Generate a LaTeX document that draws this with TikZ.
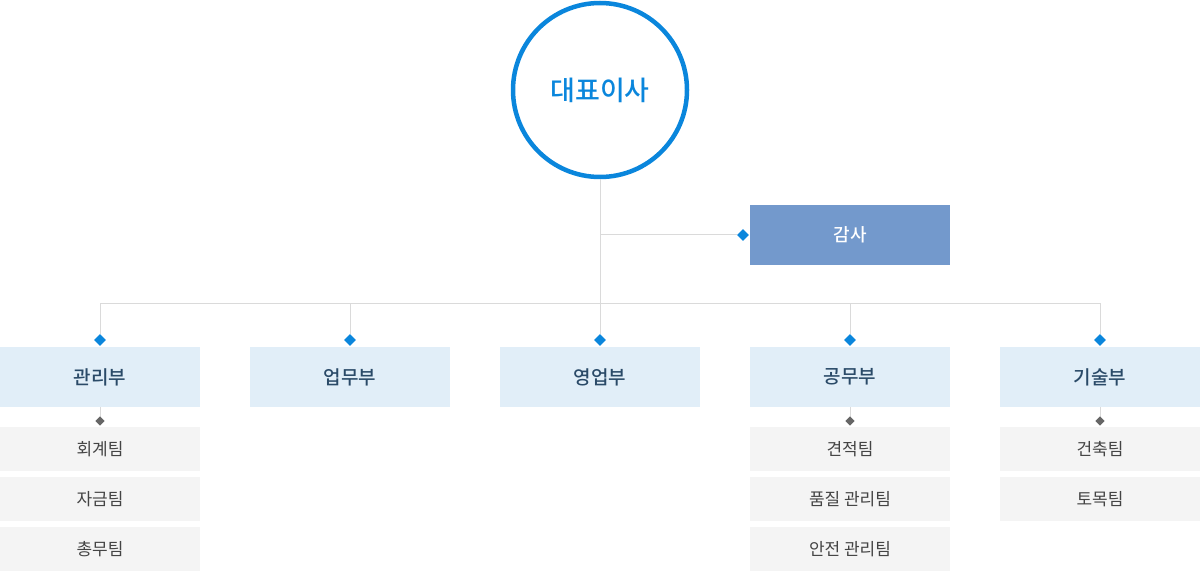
\documentclass[tikz,border=0pt]{standalone}
\usepackage{fontspec}
\setmainfont{Noto Sans CJK KR}
\newfontfamily\medfont{Noto Sans CJK KR Medium}
\usetikzlibrary{shapes.geometric, positioning}
\definecolor{ceoblue}{HTML}{0A86DC}
\definecolor{auditblue}{HTML}{7399CC}
\definecolor{deptfill}{HTML}{E1EEF8}
\definecolor{depttext}{HTML}{2A4A68}
\definecolor{teamfill}{HTML}{F4F4F4}
\definecolor{teamtext}{HTML}{444444}
\definecolor{linegray}{HTML}{DADADA}
\definecolor{dotgray}{HTML}{666666}

\begin{document}
\begin{tikzpicture}[x=1pt, y=-1pt,
    ceo/.style={circle, draw=ceoblue, line width=4.5pt, minimum size=174pt, inner sep=0pt,
        text=ceoblue, font=\fontsize{27}{30}\selectfont\medfont},
    audit/.style={rectangle, fill=auditblue, minimum width=200pt, minimum height=60pt,
        inner sep=0pt, outer sep=0pt, text=white, font=\fontsize{18}{22}\selectfont\medfont},
    dept/.style={rectangle, fill=deptfill, minimum width=200pt, minimum height=60pt,
        inner sep=0pt, outer sep=0pt, text=depttext, font=\fontsize{19}{22}\selectfont\medfont},
    team/.style={rectangle, fill=teamfill, minimum width=200pt, minimum height=44pt,
        inner sep=0pt, outer sep=0pt, text=teamtext, font=\fontsize{17}{20}\selectfont},
    bdia/.style={diamond, fill=ceoblue, inner sep=0pt, minimum size=12pt},
    gdia/.style={diamond, fill=dotgray, inner sep=0pt, minimum size=9.5pt},
    conn/.style={draw=linegray, line width=1pt}]
    \useasboundingbox (0,0) rectangle (1200,572);

    % top
    \node[ceo] (ceo) at (600,90) {대표이사};
    \node[audit] (audit) at (850,235) {감사};
    \node[bdia] (adot) at (743,235) {};
    \coordinate (bus) at (600,303);

    % departments
    \node[dept] (mgmt) at (100,377) {관리부};
    \node[dept] (biz) at (350,377) {업무부};
    \node[dept] (sales) at (600,377) {영업부};
    \node[dept] (works) at (850,377) {공무부};
    \node[dept] (tech) at (1100,377) {기술부};

    % teams
    \node[team, below=20pt of mgmt] (acct) {회계팀};
    \node[team, below=6pt of acct] (fund) {자금팀};
    \node[team, below=6pt of fund] (gen) {총무팀};
    \node[team, below=20pt of works] (est) {견적팀};
    \node[team, below=6pt of est] (qual) {품질 관리팀};
    \node[team, below=6pt of qual] (safe) {안전 관리팀};
    \node[team, below=20pt of tech] (arch) {건축팀};
    \node[team, below=6pt of arch] (civil) {토목팀};

    % lines
    \draw[conn] (ceo.south) -- (bus);
    \draw[conn] (ceo.south |- adot) -- (adot);
    \draw[conn] (mgmt |- bus) -- (tech |- bus);
    \foreach \d in {mgmt, biz, sales, works, tech} {
        \node[bdia] (\d-dot) at ([yshift=7pt]\d.north) {};
        \draw[conn] (\d |- bus) -- (\d-dot);
    }
    \foreach \d in {mgmt, works, tech} {
        \draw[conn] (\d.south) -- ([yshift=-14pt]\d.south);
        \node[gdia] (\d-sub) at ([yshift=-14pt]\d.south) {};
    }
\end{tikzpicture}
\end{document}
